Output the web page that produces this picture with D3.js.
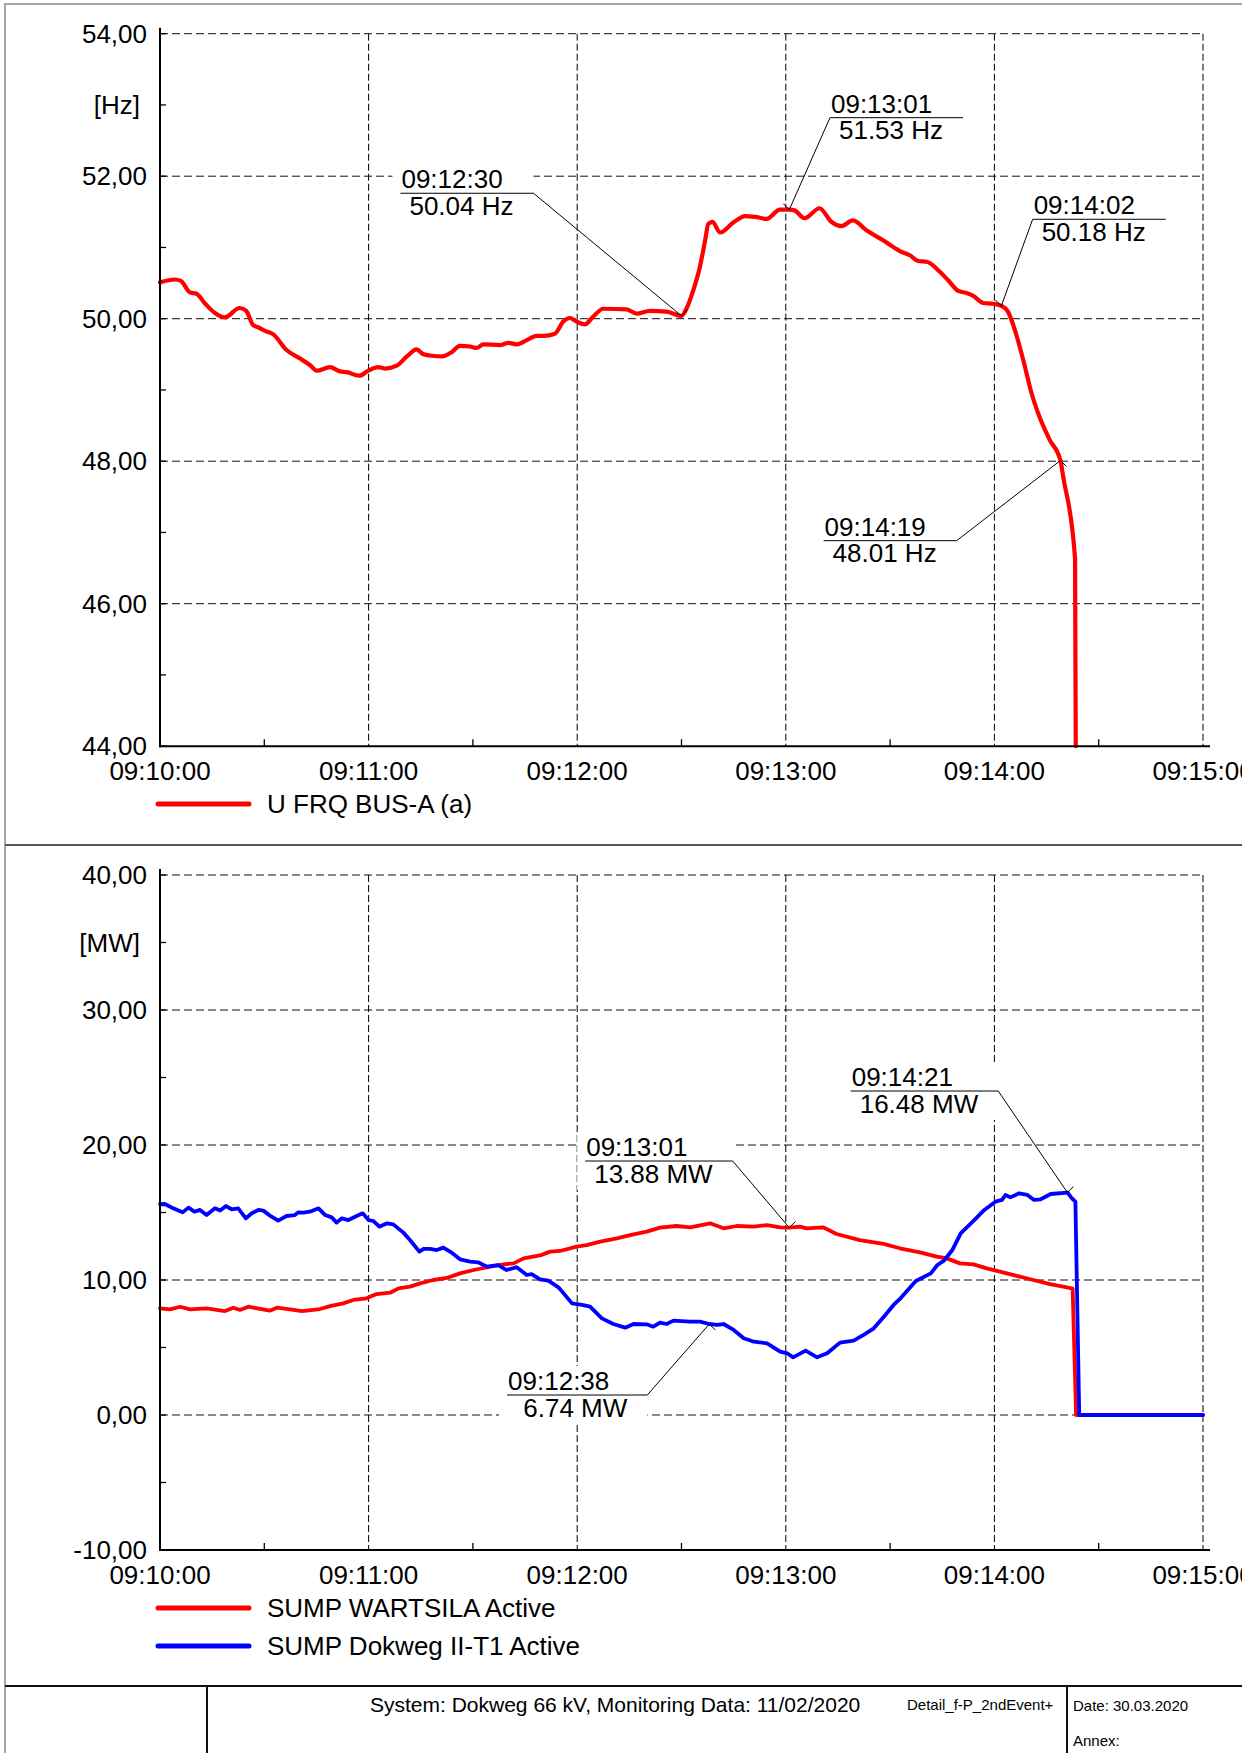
<!DOCTYPE html>
<html><head><meta charset="utf-8">
<script src="https://cdn.jsdelivr.net/npm/d3@7"></script>
<style>
body{margin:0;background:#fff;}
svg{display:block;font-family:"Liberation Sans",Arial,sans-serif;}
text{white-space:pre;}
</style>
</head><body>
<svg id="c" width="1250" height="1753"></svg>
<script>
// ---------- DATA ----------
const timeTickLabels = ["09:10:00","09:11:00","09:12:00","09:13:00","09:14:00","09:15:00"];
const timeTickSec = [0,60,120,180,240,300];
const freqTicks = [44,46,48,50,52,54];
const mwTicks = [-10,0,10,20,30,40];

// U FRQ BUS-A (a) [Hz], time in seconds after 09:10:00
const freqT = [0,4.3,6,8.6,10.5,13,15.8,18.7,22.9,24.8,26.8,28.2,30.2,32.6,36.4,40.3,43.1,45.1,48.9,51.8,53.7,57.3,59.9,62.8,64.7,68.1,71,73.8,75.8,78.2,81.1,83.9,86.3,89.2,91.1,93,97.8,100.2,102.6,105.5,108.4,110.3,113.6,116,117.9,119.8,122.2,124.6,127.5,134.2,137.1,140.9,145.7,150,151.5,153.4,155.3,156.8,157.7,158.9,161.1,164.9,168.3,171.1,174.5,178.3,181,182.5,185.4,189.7,193.1,196,199.3,203.2,208,212.8,215.7,218.1,220.5,224.3,226.7,229.6,232,233.9,236.8,239.6,242,243.9,245.9,248.3,250.7,252.6,255.9,259,259.8,263.2,263.4];
const freqV = [50.51,50.55,50.53,50.37,50.35,50.21,50.08,50.02,50.15,50.11,49.91,49.88,49.83,49.78,49.56,49.44,49.35,49.27,49.32,49.26,49.25,49.20,49.27,49.32,49.30,49.34,49.47,49.57,49.50,49.48,49.47,49.53,49.62,49.61,49.59,49.64,49.63,49.66,49.64,49.70,49.76,49.76,49.79,49.96,50.01,49.96,49.92,50.03,50.14,50.13,50.07,50.11,50.10,50.04,50.15,50.40,50.73,51.10,51.33,51.36,51.21,51.35,51.44,51.43,51.40,51.53,51.53,51.52,51.41,51.55,51.36,51.30,51.38,51.24,51.10,50.95,50.89,50.81,50.80,50.66,50.54,50.39,50.36,50.32,50.22,50.21,50.18,50.10,49.84,49.42,48.95,48.67,48.30,48.01,47.78,46.63,44.0];

// SUMP WARTSILA Active [MW]
const wartT = [0,2.9,5.8,8.6,13.4,18.7,21.1,23,25.4,31.6,33.6,37.4,40.8,46,48.9,52.7,55.6,59.4,62.3,66.2,68.6,71.9,74.8,78.6,82.5,86.3,90.2,95,98.8,101.7,104.6,109.3,112.2,115.1,119.8,122.7,126.6,131.4,135.2,140,143.8,148.6,152.5,158.2,162.1,165.9,170.8,174.6,178.4,181,184.1,186,190.8,194.6,201.3,208.1,212.8,218.6,223.4,226.3,230.1,234,237.8,241.6,246.4,251.2,256,259.8,262.5,263.5,300];
const wartV = [7.90,7.83,8.02,7.83,7.90,7.70,7.95,7.78,8.02,7.73,7.95,7.83,7.70,7.85,8.07,8.27,8.52,8.64,8.96,9.06,9.38,9.51,9.75,10.00,10.15,10.49,10.74,10.99,11.16,11.23,11.60,11.82,12.10,12.15,12.47,12.59,12.84,13.09,13.33,13.58,13.88,14.00,13.90,14.20,13.83,14.00,13.95,14.07,13.90,13.88,13.95,13.83,13.90,13.41,12.96,12.67,12.35,12.05,11.73,11.60,11.23,11.16,10.86,10.62,10.30,10.00,9.70,9.51,9.36,0,0];

// SUMP Dokweg II-T1 Active [MW]
const dokT = [0,1.4,3.8,6.5,8.2,9.9,11.5,13.4,15.8,17.3,19,20.6,22.5,24.7,26.4,28.3,29.7,31.6,34,36.4,38.8,39.8,41.2,43.1,45.6,47.5,49.4,50.8,52.3,54.2,56.1,58.3,60,61.4,63.1,65.3,67.1,70,71.9,74.6,75.8,77.7,79.6,81.5,83.9,86.3,89.2,91.5,94,97.3,99.7,102.6,105.5,106.9,109.3,111.7,114.6,116.1,118.5,121.4,123.7,127.1,130.4,133.8,136.2,140,141.9,143.8,145.7,147.7,152.5,155.3,158,160.2,162.1,165,167.9,170.8,174.6,178.4,180.4,182.1,185.7,189,191.9,195.6,199.5,202.4,205.3,208.2,211,213,217.4,221.7,223.6,225.5,227.9,230.3,234.2,237.1,240.3,242.2,243.2,244.6,247.1,249.5,251.4,253.3,256.2,261,262.3,263.3,264.4,300];
const dokV = [15.61,15.63,15.31,15.01,15.36,15.06,15.19,14.81,15.31,15.14,15.48,15.24,15.31,14.57,14.94,15.19,15.14,14.77,14.40,14.74,14.81,15.01,14.99,15.06,15.31,14.81,14.64,14.25,14.57,14.44,14.69,14.94,14.44,14.37,13.95,14.20,14.12,13.51,12.96,12.10,12.30,12.30,12.22,12.40,12.02,11.53,11.36,11.31,10.99,11.11,10.74,10.95,10.37,10.44,10.05,9.95,9.46,9.01,8.27,8.15,8.02,7.16,6.74,6.47,6.74,6.72,6.54,6.84,6.74,6.99,6.91,6.91,6.74,6.67,6.74,6.30,5.68,5.43,5.31,4.69,4.57,4.27,4.77,4.27,4.57,5.36,5.51,5.93,6.42,7.28,8.15,8.64,9.93,10.49,11.11,11.43,12.22,13.46,14.44,15.19,15.80,15.93,16.30,16.12,16.42,16.30,15.93,15.98,16.37,16.48,16.05,15.80,0,0];

// annotations (value readouts)
const freqAnnT = [150,181,242,259];
const freqAnnV = [50.04,51.53,50.18,48.01];
const freqAnnTime = ["09:12:30","09:13:01","09:14:02","09:14:19"];
const freqAnnText = ["50.04 Hz","51.53 Hz","50.18 Hz","48.01 Hz"];
const mwAnnT = [181,158,261];
const mwAnnV = [13.88,6.74,16.48];
const mwAnnTime = ["09:13:01","09:12:38","09:14:21"];
const mwAnnText = ["13.88 MW"," 6.74 MW","16.48 MW"];

// ---------- LAYOUT ----------
const X0 = 160, X1 = 1203;
const FS = 26;
const freqAnnOff = [[-148,-122.6,"r"],[40.7,-92,"l"],[31.3,-86.6,"l"],[-103.8,80.2,"r"]];
const mwAnnOff = [[-56.6,-66.6,"r"],[-62,71,"r"],[-69.2,-101.5,"r"]];

const loc = d3.formatLocale({decimal:",",thousands:".",grouping:[3],currency:["",""],minus:"-"});
const fmt = loc.format(".2f");

const svg = d3.select("#c");
svg.append("defs").append("clipPath").attr("id","pageclip")
  .append("rect").attr("x",0).attr("y",0).attr("width",1242).attr("height",1753);
const root = svg.append("g").attr("clip-path","url(#pageclip)");

const x = d3.scaleLinear().domain([0,300]).range([X0,X1]);

function zip(T,V){ return T.map((t,i)=>({t:t,v:V[i]})); }

function drawPanel(p){
  const g = root.append("g");
  const y = p.y;
  const [ymin,ymax] = y.domain();
  const yTop = y(ymax), yBot = y(ymin);
  // gridlines
  g.selectAll(".hg").data(p.ticks.filter(d=>d!==ymin)).enter().append("line")
    .attr("x1",X0).attr("x2",X1).attr("y1",d=>y(d)).attr("y2",d=>y(d))
    .attr("stroke","#111").attr("stroke-width",1).attr("stroke-dasharray","8,4");
  g.selectAll(".vg").data(timeTickSec.slice(1)).enter().append("line")
    .attr("x1",d=>x(d)).attr("x2",d=>x(d)).attr("y1",yTop).attr("y2",yBot)
    .attr("stroke","#000").attr("stroke-width",1).attr("stroke-dasharray","7,3");

  // annotation geometry
  const anns = p.annT.map((t,i)=>{
    const px = x(t), py = y(p.annV[i]);
    const o = p.annOff[i];
    return {px,py,sx:px+o[0],sy:py+o[1],side:o[2],time:p.annTime[i],text:p.annText[i],dx:o[0],dy:o[1]};
  });
  const annG = g.append("g");
  anns.forEach(a=>{
    const tmp1 = annG.append("text").attr("font-size",FS).text(a.time);
    const tmp2 = annG.append("text").attr("font-size",FS).text(a.text);
    const w = Math.max(tmp1.node().getComputedTextLength()+1, tmp2.node().getComputedTextLength()+9) + 20;
    tmp1.remove(); tmp2.remove();
    a.w = w;
    a.ux0 = a.side==="r" ? a.sx - w : a.sx;
    a.ux1 = a.ux0 + w;
  });
  // white boxes behind labels
  anns.forEach(a=>{
    annG.append("rect").attr("x",a.ux0-8).attr("y",a.sy-29).attr("width",a.w+8).attr("height",58).attr("fill","#fff");
  });

  // series
  p.series.forEach(s=>{
    const line = d3.line().x(d=>x(d.t)).y(d=>y(d.v)).curve(s.curve||d3.curveLinear);
    g.append("path").datum(zip(s.T,s.V)).attr("d",line)
      .attr("fill","none").attr("stroke",s.color).attr("stroke-width",s.width)
      .attr("stroke-linejoin","round").attr("stroke-linecap","round");
  });

  // axes
  g.append("line").attr("x1",X0).attr("x2",X0).attr("y1",yTop-6).attr("y2",yBot+1)
    .attr("stroke","#000").attr("stroke-width",2);
  g.append("line").attr("x1",X0-1).attr("x2",X1+7).attr("y1",yBot).attr("y2",yBot)
    .attr("stroke","#000").attr("stroke-width",2);
  // y ticks (major + minor)
  const step = p.ticks[1]-p.ticks[0];
  const minor = d3.range(ymin+step/2, ymax, step);
  g.selectAll(".yt").data(p.ticks.concat(minor)).enter().append("line")
    .attr("x1",X0).attr("x2",X0+6).attr("y1",d=>y(d)).attr("y2",d=>y(d))
    .attr("stroke","#000").attr("stroke-width",1.3);
  // x minor ticks
  const xminor = d3.range(30,300,60);
  g.selectAll(".xt").data(xminor).enter().append("line")
    .attr("x1",d=>x(d)).attr("x2",d=>x(d)).attr("y1",yBot).attr("y2",yBot-7)
    .attr("stroke","#000").attr("stroke-width",1.3);
  // x labels
  g.selectAll(".xl").data(timeTickSec).enter().append("text")
    .attr("x",d=>x(d)).attr("y",yBot+34).attr("text-anchor","middle").attr("font-size",FS)
    .text((d,i)=>timeTickLabels[i]);
  // y labels
  g.selectAll(".yl").data(p.ticks).enter().append("text")
    .attr("x",147).attr("y",d=>y(d)+9).attr("text-anchor","end").attr("font-size",FS)
    .text(d=>fmt(d));
  // unit
  g.append("text").attr("x",140).attr("y",y(p.unitAt)+9).attr("text-anchor","end")
    .attr("font-size",FS).text(p.unit);

  // annotation texts / lines
  anns.forEach(a=>{
    annG.append("text").attr("x",a.ux0+1).attr("y",a.sy-5).attr("font-size",FS).text(a.time);
    annG.append("text").attr("x",a.ux0+9).attr("y",a.sy+21.5).attr("font-size",FS).text(a.text);
    annG.append("line").attr("x1",a.ux0).attr("x2",a.ux1).attr("y1",a.sy).attr("y2",a.sy)
      .attr("stroke","#000").attr("stroke-width",1);
    annG.append("line").attr("x1",a.sx).attr("y1",a.sy).attr("x2",a.px).attr("y2",a.py)
      .attr("stroke","#000").attr("stroke-width",1);
    const mx = a.dx<0 ? 6 : -6, my = a.dy<0 ? -6 : 6;
    annG.append("line").attr("x1",a.px).attr("y1",a.py).attr("x2",a.px+mx).attr("y2",a.py+my)
      .attr("stroke","#000").attr("stroke-width",1);
  });
  annG.raise();

  // legend
  p.legend.forEach((l,i)=>{
    const ly = l.y;
    g.append("line").attr("x1",158).attr("x2",249).attr("y1",ly).attr("y2",ly)
      .attr("stroke",l.color).attr("stroke-width",5).attr("stroke-linecap","round");
    g.append("text").attr("x",267).attr("y",ly+9).attr("font-size",FS).text(l.name);
  });
}

drawPanel({
  y: d3.scaleLinear().domain([44,54]).range([746.2,33.7]),
  ticks: freqTicks, unit:"[Hz]", unitAt:53,
  series:[{T:freqT,V:freqV,color:"#ff0000",width:4.2,curve:d3.curveMonotoneX}],
  annT:freqAnnT, annV:freqAnnV, annTime:freqAnnTime, annText:freqAnnText, annOff:freqAnnOff,
  legend:[{name:"U FRQ BUS-A (a)",color:"#ff0000",y:804}]
});
drawPanel({
  y: d3.scaleLinear().domain([-10,40]).range([1550,875]),
  ticks: mwTicks, unit:"[MW]", unitAt:35,
  series:[{T:wartT,V:wartV,color:"#ff0000",width:3.8},{T:dokT,V:dokV,color:"#0000ff",width:3.8}],
  annT:mwAnnT, annV:mwAnnV, annTime:mwAnnTime, annText:mwAnnText, annOff:mwAnnOff,
  legend:[{name:"SUMP WARTSILA Active",color:"#ff0000",y:1608},{name:"SUMP Dokweg II-T1 Active",color:"#0000ff",y:1646}]
});

// ---------- FRAME & FOOTER ----------
const fr = root.append("g");
fr.append("rect").attr("x",5).attr("y",4).attr("width",1238).attr("height",1760)
  .attr("fill","none").attr("stroke","#8a8a8a").attr("stroke-width",1.5);
fr.append("line").attr("x1",5).attr("x2",1243).attr("y1",845).attr("y2",845)
  .attr("stroke","#555").attr("stroke-width",2);
fr.append("line").attr("x1",5).attr("x2",1243).attr("y1",1686).attr("y2",1686)
  .attr("stroke","#111").attr("stroke-width",2.2);
fr.append("line").attr("x1",207).attr("x2",207).attr("y1",1686).attr("y2",1753)
  .attr("stroke","#111").attr("stroke-width",2);
fr.append("line").attr("x1",1067).attr("x2",1067).attr("y1",1686).attr("y2",1753)
  .attr("stroke","#111").attr("stroke-width",2);
fr.append("text").attr("x",370).attr("y",1712).attr("font-size",21)
  .text("System: Dokweg 66 kV, Monitoring Data: 11/02/2020");
fr.append("text").attr("x",907).attr("y",1710).attr("font-size",15).text("Detail_f-P_2ndEvent+");
fr.append("text").attr("x",1073).attr("y",1711).attr("font-size",15).text("Date: 30.03.2020");
fr.append("text").attr("x",1073).attr("y",1746).attr("font-size",15).text("Annex:");
</script>
</body></html>
